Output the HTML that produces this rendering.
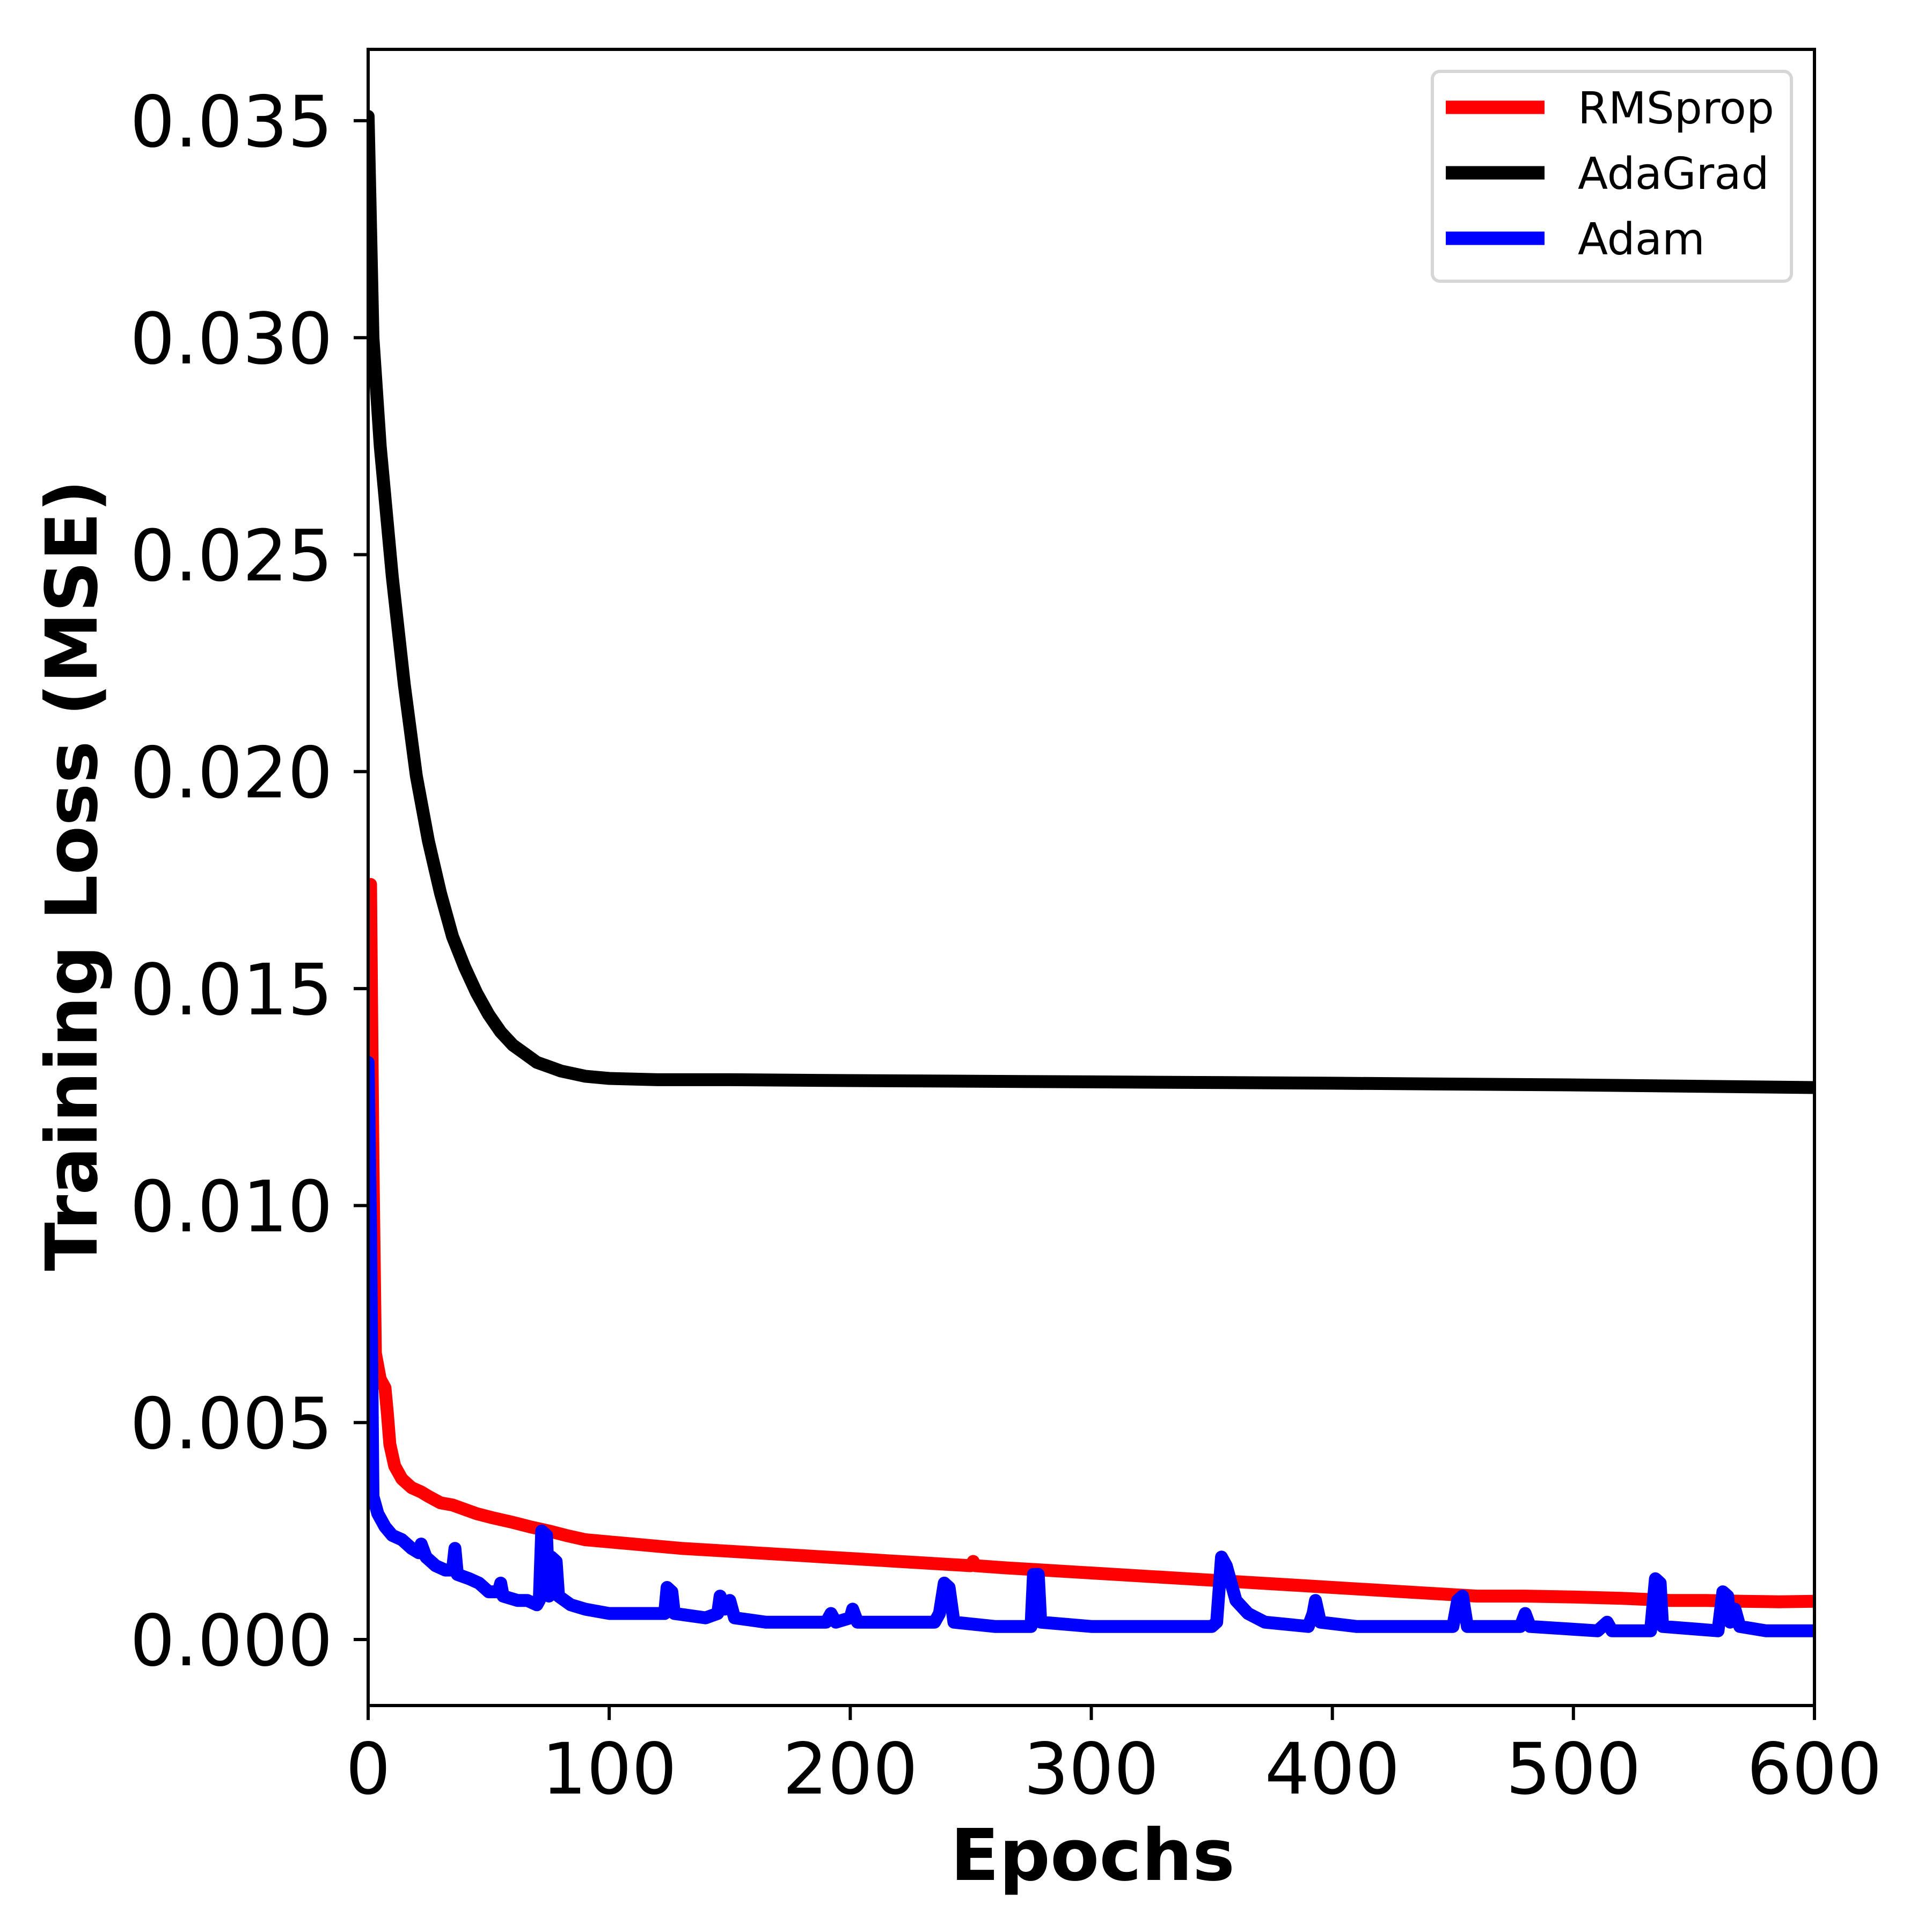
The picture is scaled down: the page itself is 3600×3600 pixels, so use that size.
<!DOCTYPE html>
<html><head><meta charset="utf-8"><style>
html,body{margin:0;padding:0;background:#fff;}
svg{display:block;font-family:"DejaVu Sans","Liberation Sans",sans-serif;}
</style></head><body>
<svg id="chart" width="3600" height="3600" viewBox="0 0 3600 3600" xmlns="http://www.w3.org/2000/svg">
<rect width="3600" height="3600" fill="#fff"/>
<g id="plot"></g>
<g id="axes"></g>
<text x="2036" y="3503" font-size="133" font-weight="bold" text-anchor="middle">Epochs</text>
<text transform="translate(180,1631) rotate(-90)" font-size="133" font-weight="bold" text-anchor="middle">Training Loss (MSE)</text>
<g>
<rect x="2669" y="133" width="669" height="391" rx="14" fill="#fff" stroke="#d6d6d6" stroke-width="6"/>
<line x1="2694" y1="200" x2="2878" y2="200" stroke="#ff0000" stroke-width="25"/>
<text x="2940" y="230" font-size="82">RMSprop</text>
<line x1="2694" y1="322" x2="2878" y2="322" stroke="#000" stroke-width="25"/>
<text x="2940" y="352" font-size="82">AdaGrad</text>
<line x1="2694" y1="444" x2="2878" y2="444" stroke="#0000ff" stroke-width="25"/>
<text x="2940" y="474" font-size="82">Adam</text>
</g>
</svg>
<script>
const xTicks = [0,100,200,300,400,500,600];
const yTicks = [0,0.005,0.010,0.015,0.020,0.025,0.030,0.035];
const yTickLabels = ["0.000","0.005","0.010","0.015","0.020","0.025","0.030","0.035"];
const adagradEpochs = [0,2,5,10,15,20,25,30,35,40,45,50,55,60,65,70,75,80,90,100,120,150,200,300,400,500,600];
const adagradLoss = [.0351,.0300,.0275,.0245,.0220,.0199,.0184,.0172,.0162,.0155,.0149,.0144,.0140,.0137,.0135,.0133,.0132,.0131,.01298,.01293,.0129,.0129,.01288,.01285,.01282,.01278,.01272];
const rmspropEpochs = [1,2,3,5,7,8,9,11,14,18,22,25,30,35,40,45,52,60,67,75,82,90,100,110,120,130,145,160,175,190,205,220,235,250,251,252,265,280,295,310,325,340,355,370,385,400,415,430,445,460,480,500,520,540,555,570,585,600];
const rmspropLoss = [.0174,.0110,.0066,.0060,.0058,.0052,.0045,.0040,.0037,.0035,.0034,.0033,.00315,.0031,.0030,.0029,.0028,.0027,.0026,.0025,.0024,.0023,.00225,.0022,.00215,.0021,.00205,.0020,.00195,.0019,.00185,.0018,.00175,.0017,.0018,.0017,.00165,.0016,.00155,.0015,.00145,.0014,.00135,.0013,.00125,.0012,.00115,.0011,.00105,.0010,.0010,.00098,.00095,.0009,.0009,.00088,.00087,.00088];
const adamEpochs = [0,1,2,4,7,10,14,18,21,22,24,28,32,35,36,37,42,46,50,54,55,56,62,66,70,71,72,74,75,76,78,79,84,90,100,110,120,123,124,126,127,140,145,146,148,150,152,165,190,192,194,200,201,203,235,237,239,241,243,260,275,276,278,279,300,320,350,352,354,356,360,365,372,390,392,393,395,410,450,452,454,456,478,480,482,510,514,516,532,534,536,537,560,562,564,565,567,569,580,600];
const adamLoss = [.0133,.0095,.0033,.0029,.0026,.0024,.0023,.0021,.0020,.0022,.0019,.0017,.0016,.0016,.0021,.0015,.0014,.0013,.0011,.0011,.0013,.0010,.0009,.0009,.0008,.0009,.0025,.0024,.0010,.0019,.0018,.0010,.0008,.0007,.0006,.0006,.0006,.0006,.0012,.0011,.0006,.0005,.0006,.0010,.0007,.0009,.0005,.0004,.0004,.0006,.0004,.0005,.0007,.0004,.0004,.0006,.0013,.0012,.0004,.0003,.0003,.0015,.0015,.0004,.0003,.0003,.0003,.0004,.0019,.0017,.0009,.0006,.0004,.0003,.0006,.0009,.0004,.0003,.0003,.0009,.0010,.0003,.0003,.0006,.0003,.0002,.0004,.0002,.0002,.0014,.0013,.0003,.0002,.0011,.0010,.0004,.0007,.0003,.0002,.0002];

const X0=686, X1=3381, YT=92, YB=3178;
function xs(e){return X0+(e-0)/(600-0)*(X1-X0);}
function ys(v){return 3055-v*80860;}
const NS="http://www.w3.org/2000/svg";
const plot=document.getElementById('plot');
const axes=document.getElementById('axes');
function mk(tag,attrs,parent){const el=document.createElementNS(NS,tag);for(const k in attrs)el.setAttribute(k,attrs[k]);parent.appendChild(el);return el;}
const clip=mk('clipPath',{id:'clipArea'},plot);
mk('rect',{x:X0,y:YT,width:X1-X0,height:YB-YT},clip);
function drawLine(ep,vals,color,name){
  const d=ep.map((e,i)=>(i?'L':'M')+xs(e).toFixed(1)+' '+ys(vals[i]).toFixed(1)).join(' ');
  const p=mk('path',{d:d,fill:'none',stroke:color,'stroke-width':24,'stroke-linejoin':'round','stroke-linecap':'round','clip-path':'url(#clipArea)'},plot);
  
  
}
drawLine(adagradEpochs,adagradLoss,'#000000','adagrad-line');
drawLine(rmspropEpochs,rmspropLoss,'#ff0000','rmsprop-line');
drawLine(adamEpochs,adamLoss,'#0000ff','adam-line');
const frame=mk('rect',{x:X0,y:YT,width:X1-X0,height:YB-YT,fill:'none',stroke:'#000','stroke-width':6},axes);


xTicks.forEach(t=>{
  const x=xs(t);
  const tk=mk('line',{x1:x,y1:YB,x2:x,y2:YB+27,stroke:'#000','stroke-width':6},axes);
  
  
  const lb=mk('text',{x:x,y:3342,'font-size':132,'text-anchor':'middle'},axes);
  lb.textContent=String(t);
  
  
});
yTicks.forEach((t,i)=>{
  const y=ys(t);
  const tk=mk('line',{x1:X0-27,y1:y,x2:X0,y2:y,stroke:'#000','stroke-width':6},axes);
  
  
  const lb=mk('text',{x:620,y:y+48,'font-size':132,'text-anchor':'end'},axes);
  lb.textContent=yTickLabels[i];
  
  
});
</script>
</body></html>
